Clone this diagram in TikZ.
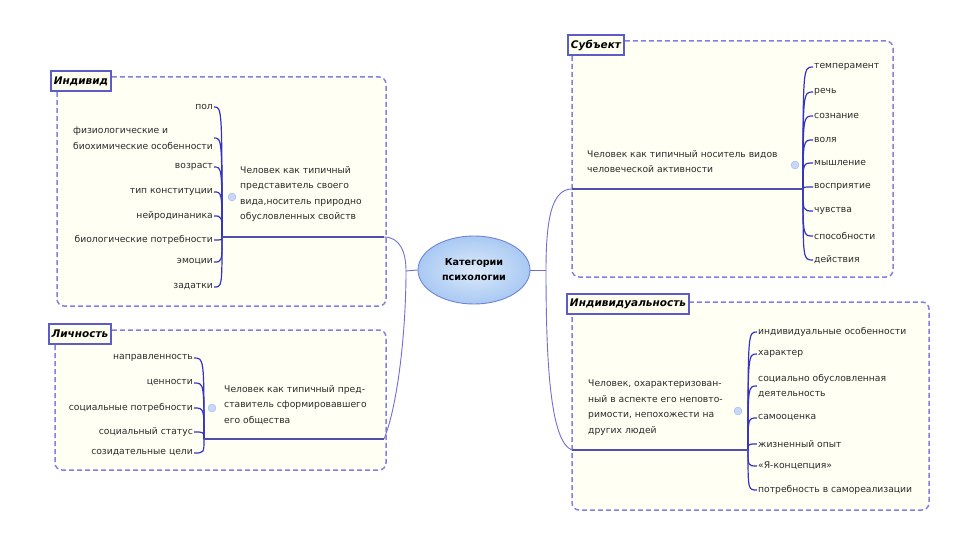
\documentclass[tikz,border=0pt]{standalone}
\usepackage{fontspec}
\setmainfont{DejaVu Sans}
\usetikzlibrary{shapes.geometric}
\definecolor{conncol}{HTML}{7070D2}
\definecolor{bracecol}{HTML}{3434C0}
\definecolor{topiccol}{HTML}{5050AA}
\definecolor{dashcol}{HTML}{8282DE}
\definecolor{boxfill}{HTML}{FFFFF4}
\definecolor{titlefill}{HTML}{FFFFF0}
\definecolor{titleborder}{HTML}{5C5CC8}
\definecolor{ellfill}{HTML}{A9C9F3}
\definecolor{ellborder}{HTML}{6E86D2}
\definecolor{knobfill}{HTML}{C6D8F4}
\definecolor{textcol}{HTML}{2A2A2A}
\tikzset{
  grp/.style={draw=dashcol, fill=boxfill, line width=1.5pt, dash pattern=on 5pt off 3pt, rounded corners=7pt},
  ttl/.style={draw=titleborder, fill=titlefill, line width=1.8pt, font=\bfseries\itshape\fontsize{10.5}{12}\selectfont, inner xsep=3pt, inner ysep=2pt, minimum height=20pt, text=black},
  hub/.style={ellipse, draw=ellborder, line width=0.9pt, inner color=ellfill!40, outer color=ellfill, minimum width=112pt, minimum height=68pt, align=center, font=\bfseries\fontsize{9.6}{15}\selectfont, text=black},
  conn/.style={draw=conncol, line width=0.9pt},
  topicline/.style={draw=topiccol, line width=1.1pt},
  brc/.style={draw=bracecol, line width=1.2pt},
  itm/.style={font=\fontsize{9.2}{15.5}\selectfont, text=textcol, inner sep=1pt, align=left},
  topic/.style={font=\fontsize{9.2}{15.5}\selectfont, text=textcol, inner sep=0pt, align=left},
  knob/.style={circle, fill=knobfill, draw=knobfill!80!blue, line width=0.3pt, minimum size=8pt, inner sep=0pt},
}
\begin{document}
\begin{tikzpicture}[x=1pt,y=-1pt]
\useasboundingbox (0,0) rectangle (960,540);
\fill[white] (0,0) rectangle (960,540);

% group boxes
\draw[grp] (57,77) rectangle (386,306);
\draw[grp] (55,330) rectangle (386,470);
\draw[grp] (572,41) rectangle (893,277);
\draw[grp] (572,302) rectangle (929,510);

% central node
\node[hub] (c) at (474,270) {Категории\\психологии};
\coordinate (L) at (406,271);
\coordinate (R) at (546,270);
\draw[conn] (L) -- (c.west);
\draw[conn] (c.east) -- (R);

% ---------- Индивид ----------
\coordinate (jInd) at (222,237);
\coordinate (eInd) at (384,237);
\node[topic, anchor=north west] (mInd) at (240,166) {Человек как типичный\\представитель своего\\вида,носитель природно\\обусловленных свойств};
\node[knob] (kInd) at (232,197) {};
\foreach \n/\y/\t in {i1/107/{пол}, i2/138/{физиологические и\\биохимические особенности}, i3/167/{возраст}, i4/192/{тип конституции}, i5/216/{нейродинаника}, i6/240/{биологические потребности}, i7/262/{эмоции}, i8/287/{задатки}}{
  \node[itm, anchor=east] (\n) at (214,\y) {\t};
  \draw[brc] (jInd) .. controls (222,\y) .. (\n.east);
}
\draw[topicline] (jInd) -- (eInd);

% ---------- Личность ----------
\coordinate (jLich) at (204,439);
\coordinate (eLich) at (384,439);
\node[topic, anchor=north west] (mLich) at (224,385) {Человек как типичный пред-\\ставитель сформировавшего\\его общества};
\node[knob] (kLich) at (212,408) {};
\foreach \n/\y/\t in {l1/358/{направленность}, l2/383/{ценности}, l3/408/{социальные потребности}, l4/432/{социальный статус}, l5/453/{созидательные цели}}{
  \node[itm, anchor=east] (\n) at (194,\y) {\t};
  \draw[brc] (jLich) .. controls (204,\y) .. (\n.east);
}
\draw[topicline] (jLich) -- (eLich);

% ---------- Субъект ----------
\coordinate (jSub) at (803,189);
\coordinate (eSub) at (572,189);
\node[topic, anchor=north west] (mSub) at (587,150) {Человек как типичный носитель видов\\человеческой активности};
\node[knob] (kSub) at (795,165) {};
\foreach \n/\y/\t in {s1/67/{темперамент}, s2/92/{речь}, s3/116/{сознание}, s4/140/{воля}, s5/163/{мышление}, s6/187/{восприятие}, s7/211/{чувства}, s8/236/{способности}, s9/260/{действия}}{
  \node[itm, anchor=west] (\n) at (813,\y) {\t};
  \draw[brc] (jSub) .. controls (803,\y) .. (\n.west);
}
\draw[topicline] (eSub) -- (jSub);

% ---------- Индивидуальность ----------
\coordinate (jIndiv) at (748,450);
\coordinate (eIndiv) at (572,450);
\node[topic, anchor=north west] (mIndiv) at (588,380) {Человек, охарактеризован-\\ный в аспекте его неповто-\\римости, непохожести на\\других людей};
\node[knob] (kIndiv) at (738,411) {};
\foreach \n/\y/\t in {v1/332/{индивидуальные особенности}, v2/354/{характер}, v3/386/{социально обусловленная\\деятельность}, v4/418/{самооценка}, v5/444/{жизненный опыт}, v6/466/{«Я-концепция»}, v7/490/{потребность в самореализации}}{
  \node[itm, anchor=west] (\n) at (757,\y) {\t};
  \draw[brc] (jIndiv) .. controls (748,\y) .. (\n.west);
}
\draw[topicline] (eIndiv) -- (jIndiv);

% ---------- connectors to the centre ----------
\draw[conn] (eInd) .. controls (400,237) and (406,252) .. (L);
\draw[conn] (L) .. controls (406,330) and (398,405) .. (eLich);
\draw[conn] (R) .. controls (546,218) and (552,189) .. (eSub);
\draw[conn] (R) .. controls (546,360) and (550,442) .. (eIndiv);

% titles (on top of the box corners)
\node[ttl] (tInd) at (81,81) {Индивид};
\node[ttl] (tLich) at (80,334) {Личность};
\node[ttl] (tSub) at (596,45) {Субъект};
\node[ttl] (tIndiv) at (628,304) {Индивидуальность};
\end{tikzpicture}
\end{document}
